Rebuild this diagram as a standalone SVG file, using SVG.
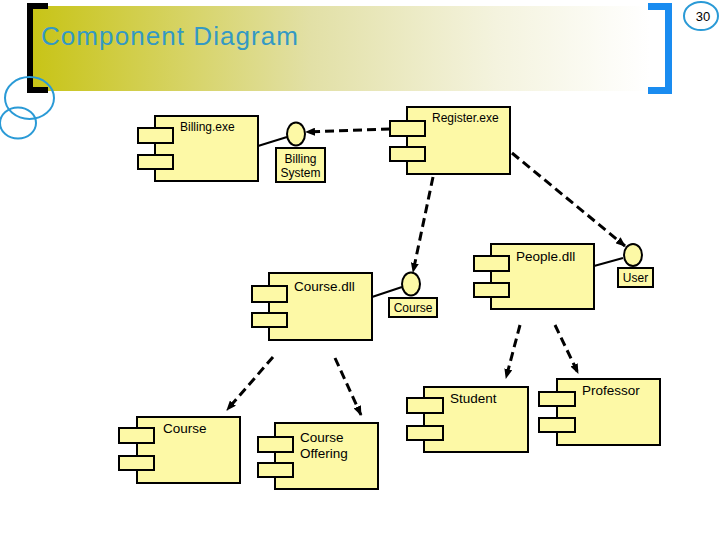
<svg xmlns="http://www.w3.org/2000/svg" width="720" height="540" viewBox="0 0 720 540">
<style>
.box{fill:#fdf9a6;stroke:#000;stroke-width:2}
.t{font-family:"Liberation Sans",Arial,sans-serif;fill:#000}
.s12{font-size:12px}
.s14{font-size:13.5px}
.dep{fill:none;stroke:#000;stroke-width:3;stroke-dasharray:9 5;marker-end:url(#ah)}
.sol{fill:none;stroke:#000;stroke-width:2}
.blue{fill:none;stroke:#2a9ad6;stroke-width:2}
</style>
<defs>
<linearGradient id="band" x1="0" y1="0" x2="1" y2="0">
<stop offset="0" stop-color="#c8c417"/>
<stop offset="0.45" stop-color="#e2e0a6"/>
<stop offset="0.75" stop-color="#f4f3de"/>
<stop offset="1" stop-color="#ffffff"/>
</linearGradient>
<marker id="ah" markerUnits="userSpaceOnUse" markerWidth="10" markerHeight="8" refX="9" refY="4" orient="auto">
<path d="M0,0 L10,4 L0,8 z" fill="#000"/>
</marker>
</defs>
<rect width="720" height="540" fill="#fff"/>
<g id="header">
<rect x="33" y="6" width="617" height="85" fill="url(#band)"/>
<path d="M48,3 H27 V93 H48 V87 H33 V9 H48 z" fill="#000"/>
<path d="M648,3 H672 V94 H648 V87 H665 V10 H648 z" fill="#1a8cf0"/>
<ellipse class="blue" cx="29.5" cy="98" rx="24.5" ry="21"/>
<ellipse class="blue" cx="18" cy="123" rx="18" ry="15.5"/>
<ellipse class="blue" cx="701" cy="16" rx="17" ry="14"/>
<text class="t" x="703" y="21" font-size="13" text-anchor="middle">30</text>
<text x="41" y="45" font-family="'Liberation Sans',Arial,sans-serif" font-size="26" fill="#3399c4" textLength="257" lengthAdjust="spacing">Component Diagram</text>
</g>
<g id="connectors">
<path class="dep" d="M390,129 L306,132"/>
<path class="dep" d="M433,177 L413,272"/>
<path class="dep" d="M512,153 L625,246"/>
<path class="dep" d="M273,357 L227,410"/>
<path class="dep" d="M335,358 L361,415"/>
<path class="dep" d="M520,325 L506,378"/>
<path class="dep" d="M555,325 L578,373"/>
<path class="sol" d="M258,146 L287,137"/>
<path class="sol" d="M372,297 L402,287"/>
<path class="sol" d="M594,266 L623,258"/>
</g>
<g id="billing-exe">
<rect class="box" x="155" y="116" width="103" height="65"/>
<rect class="box" x="138" y="128" width="35" height="15"/>
<rect class="box" x="138" y="155" width="35" height="14"/>
<text class="t s12" x="180" y="131">Billing.exe</text>
</g>
<g id="billing-system">
<ellipse class="box" cx="296" cy="134" rx="9" ry="11.5"/>
<rect class="box" x="276" y="148" width="49" height="34"/>
<text class="t s12" x="300.5" y="163" text-anchor="middle">Billing</text>
<text class="t s12" x="300.5" y="177" text-anchor="middle">System</text>
</g>
<g id="register-exe">
<rect class="box" x="407" y="107" width="103" height="67"/>
<rect class="box" x="390" y="121" width="35" height="15"/>
<rect class="box" x="390" y="147" width="35" height="14"/>
<text class="t s12" x="432" y="122">Register.exe</text>
</g>
<g id="people-dll">
<rect class="box" x="491" y="244" width="103" height="65"/>
<rect class="box" x="474" y="256" width="35" height="15"/>
<rect class="box" x="474" y="283" width="35" height="14"/>
<text class="t s14" x="516" y="261">People.dll</text>
</g>
<g id="user">
<ellipse class="box" cx="633" cy="255" rx="9" ry="11"/>
<rect class="box" x="618" y="268" width="35" height="19"/>
<text class="t s12" x="635.5" y="282" text-anchor="middle">User</text>
</g>
<g id="course-dll">
<rect class="box" x="269" y="273" width="103" height="67"/>
<rect class="box" x="252" y="286" width="35" height="16"/>
<rect class="box" x="252" y="313" width="35" height="14"/>
<text class="t s14" x="294" y="291">Course.dll</text>
</g>
<g id="course-iface">
<ellipse class="box" cx="411" cy="284" rx="9" ry="11.5"/>
<rect class="box" x="389" y="298" width="48" height="19"/>
<text class="t s12" x="413" y="312" text-anchor="middle">Course</text>
</g>
<g id="course">
<rect class="box" x="137" y="417" width="103" height="66"/>
<rect class="box" x="119" y="428" width="35" height="15"/>
<rect class="box" x="119" y="456" width="35" height="14"/>
<text class="t s14" x="163" y="433">Course</text>
</g>
<g id="course-offering">
<rect class="box" x="275" y="423" width="103" height="66"/>
<rect class="box" x="258" y="437" width="35" height="15"/>
<rect class="box" x="258" y="463" width="35" height="14"/>
<text class="t s14" x="300" y="442">Course</text>
<text class="t s14" x="300" y="458">Offering</text>
</g>
<g id="student">
<rect class="box" x="424" y="387" width="104" height="65"/>
<rect class="box" x="407" y="398" width="36" height="15"/>
<rect class="box" x="407" y="426" width="36" height="14"/>
<text class="t s14" x="450" y="403">Student</text>
</g>
<g id="professor">
<rect class="box" x="557" y="379" width="103" height="66"/>
<rect class="box" x="539" y="392" width="36" height="14"/>
<rect class="box" x="539" y="418" width="36" height="14"/>
<text class="t s14" x="582" y="395">Professor</text>
</g>
</svg>
